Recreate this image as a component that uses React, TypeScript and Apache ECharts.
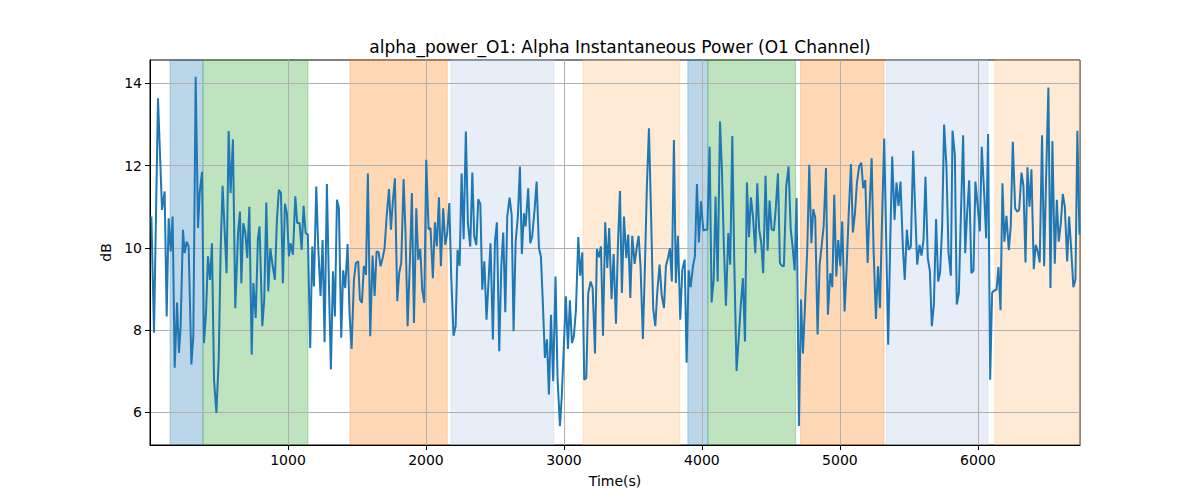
import * as echarts from "echarts";
import { useEffect, useRef } from "react";

// sample times (s) and alpha power (dB)
const times = [
  10, 29, 58, 87, 106, 121, 135, 150, 164, 179, 196, 210, 222, 239, 251, 266, 280, 300, 314, 331,
  348, 360, 377, 391, 406, 420, 435, 449, 464, 481, 498, 512, 526, 540, 555, 570, 584, 601, 618, 638,
  652, 662, 676, 691, 705, 720, 737, 749, 766, 782, 794, 814, 828, 843, 857, 872, 886, 905, 920, 934,
  949, 963, 978, 992, 1007, 1019, 1036, 1053, 1067, 1084, 1099, 1113, 1128, 1144, 1161, 1176, 1188, 1205, 1219, 1236,
  1251, 1265, 1282, 1297, 1311, 1326, 1340, 1355, 1369, 1386, 1400, 1415, 1432, 1446, 1461, 1478, 1492, 1509, 1521, 1536,
  1550, 1565, 1579, 1596, 1613, 1628, 1642, 1657, 1671, 1686, 1700, 1715, 1732, 1746, 1761, 1775, 1792, 1806, 1821, 1838,
  1852, 1867, 1884, 1898, 1913, 1930, 1944, 1959, 1973, 1988, 2002, 2019, 2033, 2050, 2065, 2079, 2094, 2108, 2125, 2140,
  2154, 2169, 2183, 2200, 2215, 2229, 2244, 2258, 2273, 2289, 2304, 2321, 2336, 2350, 2365, 2379, 2394, 2408, 2423, 2439,
  2454, 2468, 2485, 2500, 2514, 2531, 2546, 2560, 2575, 2589, 2606, 2621, 2635, 2650, 2666, 2681, 2695, 2710, 2722, 2741,
  2756, 2770, 2787, 2802, 2819, 2833, 2848, 2862, 2877, 2891, 2906, 2922, 2939, 2954, 2971, 2985, 2999, 3014, 3029, 3043,
  3058, 3072, 3087, 3104, 3118, 3133, 3147, 3162, 3176, 3193, 3208, 3225, 3239, 3254, 3268, 3283, 3299, 3314, 3328, 3345,
  3360, 3377, 3391, 3406, 3420, 3435, 3452, 3466, 3481, 3495, 3512, 3527, 3541, 3555, 3572, 3587, 3601, 3616, 3630, 3647,
  3662, 3676, 3693, 3708, 3725, 3739, 3754, 3768, 3782, 3797, 3811, 3826, 3843, 3858, 3875, 3889, 3904, 3918, 3935, 3949,
  3964, 3978, 3993, 4010, 4024, 4039, 4056, 4070, 4085, 4099, 4114, 4131, 4145, 4159, 4174, 4191, 4205, 4220, 4234, 4251,
  4266, 4280, 4297, 4312, 4326, 4341, 4355, 4370, 4387, 4401, 4415, 4430, 4444, 4461, 4476, 4490, 4505, 4522, 4536, 4551,
  4565, 4580, 4594, 4611, 4628, 4643, 4657, 4672, 4686, 4703, 4718, 4732, 4747, 4764, 4778, 4793, 4807, 4821, 4838, 4853,
  4867, 4882, 4899, 4913, 4930, 4945, 4959, 4974, 4988, 5003, 5017, 5034, 5049, 5063, 5080, 5094, 5109, 5123, 5140, 5155,
  5169, 5184, 5201, 5215, 5230, 5244, 5261, 5276, 5290, 5304, 5321, 5350, 5364, 5379, 5396, 5410, 5425, 5439, 5456, 5470,
  5485, 5499, 5514, 5531, 5545, 5560, 5577, 5591, 5606, 5620, 5637, 5652, 5666, 5681, 5697, 5712, 5726, 5741, 5755, 5772,
  5787, 5804, 5816, 5833, 5847, 5862, 5876, 5893, 5908, 5922, 5937, 5953, 5968, 5982, 5999, 6014, 6028, 6043, 6060, 6074,
  6089, 6103, 6118, 6135, 6149, 6164, 6178, 6192, 6207, 6224, 6238, 6253, 6270, 6284, 6299, 6316, 6330, 6345, 6359, 6374,
  6388, 6405, 6419, 6434, 6448, 6465, 6480, 6494, 6511, 6526, 6540, 6557, 6572, 6586, 6601, 6615, 6630, 6647, 6661, 6675,
  6692, 6707, 6721, 6736,
];

const power = [
  10.76, 7.93, 13.64, 10.92, 11.37, 8.33, 10.72, 9.91, 10.76, 7.08, 8.67, 7.44, 8.09, 10.44, 9.87, 10.15, 10.03, 7.16, 7.85, 14.16,
  10.48, 11.33, 11.85, 7.68, 8.41, 9.79, 9.22, 10.11, 6.79, 5.98, 7.28, 9.95, 11.51, 10.5, 9.38, 12.84, 11.33, 12.64, 8.53, 10.36,
  10.88, 9.14, 10.6, 10.36, 9.75, 11.0, 7.4, 9.14, 8.29, 10.23, 10.52, 8.09, 8.74, 11.1, 8.94, 9.99, 9.63, 9.22, 10.68, 11.41,
  11.33, 9.14, 11.07, 10.84, 9.79, 10.11, 9.83, 11.25, 10.6, 10.6, 9.95, 11.02, 10.36, 10.32, 7.56, 10.03, 9.06, 11.49, 10.03, 8.83,
  10.19, 7.7, 11.55, 9.06, 7.04, 9.43, 8.33, 11.17, 10.96, 7.81, 9.45, 9.02, 10.09, 8.41, 7.54, 9.22, 9.63, 9.67, 8.74, 8.66,
  9.56, 9.34, 11.81, 7.85, 9.81, 8.83, 9.91, 9.89, 9.55, 9.75, 9.99, 10.76, 11.43, 10.44, 11.17, 11.69, 8.7, 9.38, 9.64, 11.67,
  10.36, 8.09, 9.71, 11.33, 8.17, 10.96, 9.71, 9.97, 8.98, 8.66, 12.14, 10.45, 10.48, 9.26, 10.62, 10.03, 11.23, 9.55, 10.96, 10.07,
  10.36, 11.09, 9.3, 7.86, 8.09, 9.95, 9.56, 11.81, 10.21, 12.83, 10.6, 10.03, 11.83, 10.28, 10.07, 11.18, 11.07, 8.98, 9.67, 8.25,
  9.22, 10.11, 7.77, 10.15, 10.62, 7.48, 9.55, 10.37, 8.43, 10.76, 11.22, 10.8, 7.97, 10.15, 10.76, 11.98, 9.85, 10.84, 10.52, 11.45,
  10.11, 10.28, 10.92, 11.61, 9.99, 9.79, 8.58, 7.32, 7.77, 6.43, 8.37, 6.75, 9.3, 6.79, 5.66, 6.43, 7.6, 8.82, 7.54, 8.72,
  7.68, 7.85, 8.49, 10.26, 9.32, 9.89, 6.79, 6.83, 8.9, 9.18, 9.02, 7.43, 9.97, 9.77, 10.03, 7.86, 10.62, 9.51, 10.48, 8.75,
  9.85, 8.15, 10.03, 11.38, 8.9, 10.76, 9.75, 10.32, 8.78, 10.29, 9.61, 9.99, 10.29, 9.55, 7.78, 9.55, 11.49, 12.91, 11.0, 8.51,
  8.09, 8.9, 9.59, 8.86, 8.53, 9.55, 9.75, 9.99, 9.18, 12.62, 9.14, 10.29, 8.25, 9.47, 9.71, 7.2, 9.45, 9.04, 9.55, 9.79,
  11.55, 10.13, 11.13, 10.42, 10.44, 10.44, 12.46, 8.67, 9.22, 11.25, 9.18, 13.07, 11.89, 10.03, 8.59, 10.36, 9.59, 12.72, 9.71, 7.0,
  7.77, 8.53, 9.26, 7.72, 11.59, 10.26, 11.23, 10.76, 9.87, 11.57, 10.45, 10.11, 9.38, 11.75, 9.93, 11.15, 10.45, 10.42, 11.0, 11.81,
  9.63, 9.56, 9.55, 11.49, 11.98, 10.48, 10.03, 9.45, 11.21, 5.66, 8.74, 7.43, 8.58, 10.03, 12.02, 10.11, 10.94, 10.74, 7.89, 9.59,
  10.03, 10.52, 11.94, 8.37, 9.38, 9.04, 11.29, 9.3, 10.19, 9.55, 10.64, 8.45, 9.55, 10.76, 12.04, 10.37, 10.84, 11.57, 11.99, 12.07,
  11.45, 11.65, 9.63, 11.0, 12.18, 9.95, 8.27, 9.55, 8.53, 10.52, 12.66, 7.64, 10.03, 12.22, 10.68, 11.59, 11.02, 11.61, 10.03, 9.22,
  10.44, 9.95, 10.03, 12.36, 10.96, 9.59, 10.07, 9.81, 10.19, 11.73, 9.75, 9.43, 8.09, 8.62, 10.7, 9.18, 9.4, 10.52, 13.0, 11.98,
  9.89, 9.32, 12.85, 12.26, 8.62, 8.9, 10.68, 12.74, 9.87, 10.84, 11.64, 9.38, 9.45, 11.61, 11.0, 10.4, 12.46, 11.49, 10.23, 12.77,
  6.79, 8.9, 8.96, 8.98, 9.53, 8.48, 11.57, 10.15, 10.78, 9.94, 10.52, 12.58, 10.96, 10.88, 10.92, 11.83, 11.51, 9.64, 11.96, 11.0,
  11.91, 9.48, 10.07, 9.91, 9.64, 12.74, 9.55, 11.65, 13.9, 9.02, 12.6, 9.61, 11.17, 10.15, 10.6, 11.31, 11.0, 9.67, 10.76, 10.03,
  9.04, 9.22, 12.85, 10.32,
];

// shaded segments (s) and their kind
const bandStarts = [145, 384, 1449, 2181, 3138, 3898, 4043, 4715, 5336, 6123];
const bandEnds = [384, 1145, 2154, 2927, 3838, 4043, 4679, 5319, 6072, 6740];
const bandKinds = ["blue", "green", "orange", "lightblue", "lightorange", "blue", "green", "orange", "lightblue", "lightorange"];

const xTicks = [1000, 2000, 3000, 4000, 5000, 6000];
const yTicks = [6, 8, 10, 12, 14];

const bandColor = {
  blue: "rgba(31,119,180,0.3)",
  green: "rgba(44,160,44,0.3)",
  orange: "rgba(255,127,14,0.3)",
  lightblue: "rgba(174,199,232,0.3)",
  lightorange: "rgba(255,187,120,0.3)",
};

const FONT = "DejaVu Sans";

export default function App() {
  const chartRef = useRef<HTMLDivElement>(null);
  useEffect(() => {
    const chart = echarts.init(chartRef.current, null, { renderer: "svg" });
    chart.setOption(getChartOption());
    return () => {
      chart.dispose();
    };
  }, []);

  return (
    <div
      ref={chartRef}
      style={{ position: "absolute", left: 0, top: 0, width: "1200px", height: "500px" }}
    />
  );
}

function getChartOption() {
  const bands = bandStarts.map((s, i) => [
    {
      xAxis: s,
      itemStyle: { color: bandColor[bandKinds[i]], borderColor: bandColor[bandKinds[i]], borderWidth: 1 },
    },
    { xAxis: bandEnds[i] },
  ]);

  const labelStyle = {
    fontFamily: FONT,
    fontSize: 14,
    color: "#000",
    margin: 8,
    formatter: (v: number) => String(Math.round(v)),
  };

  return {
    animation: false,
    backgroundColor: "#fff",
    textStyle: { fontFamily: FONT },
    title: {
      text: "alpha_power_O1: Alpha Instantaneous Power (O1 Channel)",
      left: 615,
      top: 33,
      textAlign: "center",
      textStyle: { fontFamily: FONT, fontSize: 17, fontWeight: "normal", color: "#000" },
    },
    grid: {
      left: 150,
      top: 60,
      width: 930,
      height: 385,
      show: true,
      borderColor: "#000",
      borderWidth: 1,
      backgroundColor: "transparent",
    },
    xAxis: {
      type: "value",
      min: 0,
      max: 6740,
      interval: 1000,
      z: 2,
      name: "Time(s)",
      nameLocation: "middle",
      nameGap: 29,
      nameTextStyle: { fontFamily: FONT, fontSize: 14, color: "#000" },
      axisLine: { show: true, onZero: false, lineStyle: { color: "#000", width: 1 } },
      axisTick: { show: true, length: 5, customValues: xTicks, lineStyle: { color: "#000" } },
      axisLabel: { ...labelStyle, customValues: xTicks },
      splitLine: { show: true, lineStyle: { color: "#b0b0b0", width: 1 } },
    },
    yAxis: {
      type: "value",
      min: 5.2,
      max: 14.57,
      splitNumber: 5,
      z: 2,
      name: "dB",
      nameLocation: "middle",
      nameGap: 33,
      nameTextStyle: { fontFamily: FONT, fontSize: 14, color: "#000" },
      axisLine: { show: true, lineStyle: { color: "#000", width: 1 } },
      axisTick: { show: true, length: 5, customValues: yTicks, lineStyle: { color: "#000" } },
      axisLabel: { ...labelStyle, customValues: yTicks },
      splitLine: { show: true, lineStyle: { color: "#b0b0b0", width: 1 } },
    },
    series: [
      {
        type: "line",
        data: [],
        silent: true,
        z: 1,
        markArea: { silent: true, data: bands },
      },
      {
        type: "line",
        z: 3,
        data: times.map((t, i) => [t, power[i]]),
        showSymbol: false,
        symbol: "none",
        lineStyle: { color: "#1f77b4", width: 2 },
        itemStyle: { color: "#1f77b4" },
      },
    ],
  };
}
